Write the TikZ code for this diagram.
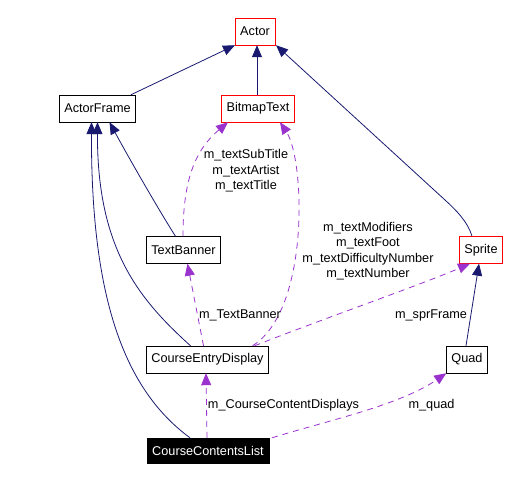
\documentclass[tikz,border=0pt]{standalone}
\usepackage{fontspec}
\setmainfont{Liberation Sans}
\usetikzlibrary{arrows.meta}
\definecolor{navyedge}{RGB}{25,25,112}
\definecolor{memberedge}{RGB}{154,50,205}
\begin{document}
\begin{tikzpicture}[x=1pt, y=-1pt,
  cls/.style={draw, rectangle, inner xsep=5pt, inner ysep=0pt, minimum height=27pt,
    font=\fontsize{12.7}{14}\selectfont},
  redcls/.style={cls, draw=red},
  thiscls/.style={cls, fill=black, text=white, minimum height=25pt},
  inherit/.style={draw=navyedge, line width=0.8pt, -{Triangle[length=12pt,width=10pt]}, navyedge},
  member/.style={draw=memberedge, line width=0.8pt, dash pattern=on 6pt off 5pt,
    -{Triangle[length=12pt,width=10pt]}, memberedge},
  lbl/.style={align=center, inner sep=0pt, font=\fontsize{12.7}{15.5}\selectfont}]
\useasboundingbox (0,0) rectangle (509,481);
\node [redcls] (actor) at (255,31.5) {Actor};
\node [cls] (af) at (97.5,108.5) {ActorFrame};
\node [redcls] (bt) at (258,108.5) {BitmapText};
\node [cls] (tb) at (183.5,250) {TextBanner};
\node [redcls] (sprite) at (481,250) {Sprite};
\node [cls] (ced) at (207.5,359.5) {CourseEntryDisplay};
\node [cls] (quad) at (467,359.5) {Quad};
\node [thiscls] (ccl) at (208,450.5) {CourseContentsList};
% inheritance
\draw [inherit] ([xshift=-5pt]af.north east) -- (actor.south west);
\draw [inherit] ([xshift=-1pt]bt.north) -- ([xshift=-1pt]bt.north |- actor.south);
\draw [inherit] ([xshift=-9pt]sprite.north) .. controls (468,222) and (456,210) .. (445,200)
  -- ([xshift=1pt]actor.south east);
\draw [inherit] ([xshift=-8pt]tb.north) .. controls (160,212) and (130,160) .. ([xshift=12pt]af.south);
\draw [inherit] ([xshift=-17pt]ced.north) .. controls (140,300) and (97,250) .. (af.south);
\draw [inherit] ([xshift=-18pt]ccl.north) .. controls (125,390) and (91,300) .. ([xshift=-6pt]af.south);
\draw [inherit] ([xshift=-1pt]quad.north) -- ([xshift=-2pt]sprite.south);
% members
\draw [member] ([xshift=-0.5pt]tb.north) .. controls (183,180) and (195,150) .. ([xshift=-30pt]bt.south);
\draw [member] ([xshift=45pt]ced.north) .. controls (310,310) and (305,160) .. ([xshift=22pt]bt.south);
\draw [member] ([xshift=-4pt]ced.north) -- ([xshift=4pt]tb.south);
\draw [member] ([xshift=47pt]ced.north) .. controls (320,320) and (420,285) .. ([xshift=-11pt]sprite.south);
\draw [member] ([xshift=-1pt]ccl.north) -- ([xshift=-1.5pt]ced.south);
\draw [member] ([xshift=64pt]ccl.north) .. controls (330,420) and (400,405) .. (quad.south west);
% labels
\node [lbl] (l_bt1) at (246,171) {m\_textSubTitle\\m\_textArtist\\m\_textTitle};
\node [lbl] (l_bt2) at (368,251) {m\_textModifiers\\m\_textFoot\\m\_textDifficultyNumber\\m\_textNumber};
\node [lbl] (l_tb) at (240,315) {m\_TextBanner};
\node [lbl] (l_spr) at (431,315) {m\_sprFrame};
\node [lbl] (l_ced) at (283.5,405) {m\_CourseContentDisplays};
\node [lbl] (l_quad) at (431.5,405) {m\_quad};
\end{tikzpicture}
\end{document}
